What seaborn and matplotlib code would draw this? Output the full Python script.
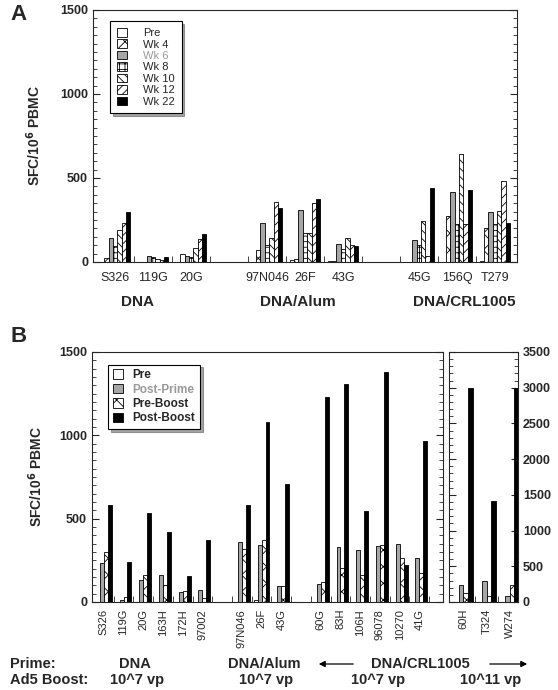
import numpy as np
import pandas as pd
import seaborn as sns
import matplotlib.pyplot as plt
from matplotlib.patches import Patch
from matplotlib.ticker import MultipleLocator, FixedLocator

# ---- panel A data (SFC/10^6 PBMC) ----
subjects_a = ["S326", "119G", "20G", "97N046", "26F", "43G", "45G", "156Q", "T279"]
pos_a = [0, 1, 2, 4, 5, 6, 8, 9, 10]
weeks_a = ["Pre", "Wk 4", "Wk 6", "Wk 8", "Wk 10", "Wk 12", "Wk 22"]
pre_a = [0, 0, 0, 0, 10, 5, 0, 0, 5]
wk4_a = [25, 0, 45, 70, 15, 8, 0, 275, 205]
wk6_a = [140, 35, 35, 230, 310, 110, 130, 415, 300]
wk8_a = [95, 30, 30, 100, 170, 75, 100, 225, 225]
wk10_a = [190, 20, 85, 140, 170, 145, 245, 645, 305]
wk12_a = [235, 12, 135, 360, 350, 100, 35, 225, 480]
wk22_a = [300, 30, 165, 320, 375, 95, 440, 430, 230]
groups_a = ["DNA", "DNA/Alum", "DNA/CRL1005"]

# ---- panel B data ----
subjects_b = ["S326", "119G", "20G", "163H", "172H", "97002", "97N046", "26F", "43G",
              "60G", "83H", "106H", "96078", "10270", "41G"]
pos_b = [0, 1, 2, 3, 4, 5, 7, 8, 9, 11, 12, 13, 14, 15, 16]
times_b = ["Pre", "Post-Prime", "Pre-Boost", "Post-Boost"]
pre_b = [0, 0, 0, 0, 0, 0, 0, 10, 0, 0, 0, 0, 0, 0, 0]
postprime_b = [235, 15, 135, 160, 60, 75, 360, 345, 95, 110, 330, 315, 335, 350, 265]
preboost_b = [300, 30, 160, 100, 65, 25, 320, 370, 95, 120, 205, 160, 345, 265, 175]
postboost_b = [580, 240, 535, 420, 155, 370, 580, 1080, 710, 1230, 1310, 545, 1380, 225, 965]

# high dose boost (right axis)
subjects_c = ["60H", "T324", "W274"]
pos_c = [0, 1, 2]
pre_c = [0, 0, 0]
postprime_c = [235, 300, 80]
preboost_c = [125, 80, 235]
postboost_c = [3000, 1420, 3000]

GRAY = "#a6a6a6"
styles_a = {"Pre": ("white", ""), "Wk 4": ("white", "xx"), "Wk 6": (GRAY, ""),
            "Wk 8": ("white", "+++"), "Wk 10": ("white", "\\\\\\\\"),
            "Wk 12": ("white", "////"), "Wk 22": ("black", "")}
styles_b = {"Pre": ("white", ""), "Post-Prime": (GRAY, ""),
            "Pre-Boost": ("white", "xx"), "Post-Boost": ("black", "")}


def long_df(pos, names, series):
    rows = []
    for name, vals in zip(names, series):
        for p, v in zip(pos, vals):
            rows.append({"pos": p, "time": name, "val": v})
    return pd.DataFrame(rows)


def draw_bars(ax, df, order, styles):
    sns.barplot(data=df, x="pos", y="val", hue="time", hue_order=order,
                palette={k: styles[k][0] for k in order}, native_scale=True,
                width=0.8, errorbar=None, edgecolor="black", linewidth=0.6,
                saturation=1, legend=False, ax=ax)
    for cont, name in zip(ax.containers, order):
        for bar in cont:
            bar.set_hatch(styles[name][1])
            bar.set_edgecolor("black")


def style_axis(ax, ymax, major, minor, xmin, xmax, halfticks):
    ax.set_xlim(xmin, xmax)
    ax.set_ylim(0, ymax)
    ax.yaxis.set_major_locator(MultipleLocator(major))
    ax.yaxis.set_minor_locator(MultipleLocator(minor))
    ax.xaxis.set_minor_locator(FixedLocator(halfticks))
    ax.tick_params(axis="y", which="both", direction="in", left=True, right=True)
    ax.tick_params(axis="y", which="major", length=5, width=0.8)
    ax.tick_params(axis="y", which="minor", length=3, width=0.6)
    ax.tick_params(axis="x", which="major", length=0)
    ax.tick_params(axis="x", which="minor", direction="in", length=4, width=0.6)
    for s in ax.spines.values():
        s.set_visible(True)
        s.set_linewidth(0.8)
    ax.set_xlabel("")
    ax.set_ylabel("")


sns.set_style("ticks")
plt.rcParams["font.family"] = ["Liberation Sans", "DejaVu Sans"]
plt.rcParams["hatch.linewidth"] = 0.6

fig = plt.figure(figsize=(5.58, 6.9), dpi=100)
W, H = 558.0, 690.0


def box(x0, y0, x1, y1):
    return [x0 / W, 1 - y1 / H, (x1 - x0) / W, (y1 - y0) / H]


# ---------------- panel A ----------------
axA = fig.add_axes(box(93, 10, 517, 262))
dfA = long_df(pos_a, weeks_a, [pre_a, wk4_a, wk6_a, wk8_a, wk10_a, wk12_a, wk22_a])
draw_bars(axA, dfA, weeks_a, styles_a)
style_axis(axA, 1500, 500, 50, -0.58, 10.58, np.arange(0.5, 10, 1.0))
axA.set_xticks(pos_a)
axA.set_xticklabels(subjects_a, fontsize=9)
axA.tick_params(axis="x", which="major", pad=7)
for lab in axA.get_yticklabels():
    lab.set_fontweight("bold")
    lab.set_fontsize(9)
axA.set_ylabel("SFC/10$^{\\mathbf{6}}$ PBMC", fontsize=10, fontweight="bold", labelpad=12)
for name, xc in zip(groups_a, [0.6, 4.8, 9.2]):
    axA.text(xc, -0.16, name, transform=axA.get_xaxis_transform(), ha="center",
             va="center", fontsize=11, fontweight="bold")

hA = [Patch(facecolor=styles_a[k][0], edgecolor="black", hatch=styles_a[k][1], lw=0.6, label=k)
      for k in weeks_a]
legA = axA.legend(handles=hA, loc="upper left", bbox_to_anchor=(0.04, 0.955), fontsize=8,
                  frameon=True, fancybox=False, shadow=True, handlelength=0.9, handleheight=0.8,
                  labelspacing=0.12, handletextpad=1.5, borderpad=0.6, borderaxespad=0)
legA.get_frame().set_edgecolor("black")
legA.get_frame().set_linewidth(0.8)
legA.get_texts()[2].set_color("#999999")

fig.text(10 / W, 1 - 14 / H, "A", fontsize=16, fontweight="bold", va="center")

# ---------------- panel B (left) ----------------
axB = fig.add_axes(box(92, 352, 443, 602))
dfB = long_df(pos_b, times_b, [pre_b, postprime_b, preboost_b, postboost_b])
draw_bars(axB, dfB, times_b, styles_b)
style_axis(axB, 1500, 500, 50, -0.6, 17.2, np.arange(0.5, 17, 1.0))
axB.set_xticks(pos_b)
axB.set_xticklabels(subjects_b, fontsize=8, rotation=90)
axB.tick_params(axis="x", which="major", pad=5)
for lab in axB.get_yticklabels():
    lab.set_fontweight("bold")
    lab.set_fontsize(9)
axB.set_ylabel("SFC/10$^{\\mathbf{6}}$ PBMC", fontsize=10, fontweight="bold", labelpad=10)

hB = [Patch(facecolor=styles_b[k][0], edgecolor="black", hatch=styles_b[k][1], lw=0.6, label=k)
      for k in times_b]
legB = axB.legend(handles=hB, loc="upper left", bbox_to_anchor=(0.045, 0.95),
                  frameon=True, fancybox=False, shadow=True, handlelength=0.9, handleheight=0.85,
                  labelspacing=0.2, handletextpad=0.8, borderpad=0.4, borderaxespad=0,
                  prop={"weight": "bold", "size": 8.5})
legB.get_frame().set_edgecolor("black")
legB.get_frame().set_linewidth(0.8)
legB.get_texts()[1].set_color("#999999")

fig.text(10 / W, 1 - 337 / H, "B", fontsize=16, fontweight="bold", va="center")

# ---------------- panel B (right, 10^11 vp) ----------------
axC = fig.add_axes(box(449, 352, 518, 602))
dfC = long_df(pos_c, times_b, [pre_c, postprime_c, preboost_c, postboost_c])
draw_bars(axC, dfC, times_b, styles_b)
style_axis(axC, 3500, 500, 100, -0.62, 2.36, [0.5, 1.5])
axC.set_xticks(pos_c)
axC.set_xticklabels(subjects_c, fontsize=8, rotation=90)
axC.tick_params(axis="x", which="major", pad=5)
axC.tick_params(axis="y", which="both", labelleft=False, labelright=True)
for lab in axC.get_yticklabels():
    lab.set_fontweight("bold")
    lab.set_fontsize(9)

# ---------------- bottom annotation rows ----------------
y1 = 1 - 664 / H
y2 = 1 - 680 / H
fig.text(10 / W, y1, "Prime:", fontsize=10.5, fontweight="bold", va="center")
fig.text(10 / W, y2, "Ad5 Boost:", fontsize=10.5, fontweight="bold", va="center")
for txt, xc in [("DNA", 135), ("DNA/Alum", 264), ("DNA/CRL1005", 420)]:
    fig.text(xc / W, y1, txt, fontsize=10.5, fontweight="bold", va="center", ha="center")
for txt, xc in [("10^7 vp", 137), ("10^7 vp", 266), ("10^7 vp", 378), ("10^11 vp", 491)]:
    fig.text(xc / W, y2, txt, fontsize=10.5, fontweight="bold", va="center", ha="center")
arrow = dict(arrowstyle="-|>", color="black", lw=0.9, mutation_scale=9)
axB.annotate("", xy=(316 / W, y1), xytext=(356 / W, y1), xycoords="figure fraction",
             textcoords="figure fraction", arrowprops=arrow, annotation_clip=False)
axB.annotate("", xy=(530 / W, y1), xytext=(487 / W, y1), xycoords="figure fraction",
             textcoords="figure fraction", arrowprops=arrow, annotation_clip=False)

fig.savefig("out.png", dpi=100)
